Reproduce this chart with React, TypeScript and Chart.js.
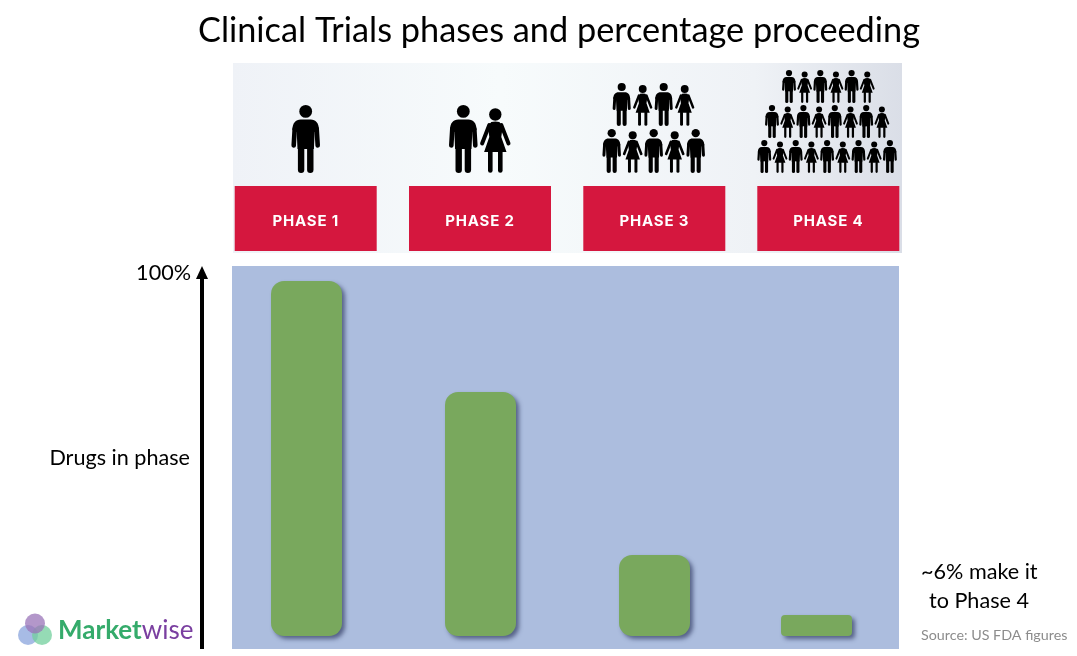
import React, { useEffect, useRef } from "react";
import { Chart, registerables } from "chart.js";

Chart.register(...registerables);

const phaseLabels = ["PHASE 1", "PHASE 2", "PHASE 3", "PHASE 4"];
const phasePositions = [1, 2, 3, 3.931];
const drugsInPhase = [100, 68.7, 22.8, 5.9];
const cornerRadii = [13, 13, 13, 4];
const chartTitle = "Clinical Trials phases and percentage proceeding";
const peakLabel = "100%";
const peakValue = 100;
const axisCaption = "Drugs in phase";
const noteLines = ["~6% make it", "to Phase 4"];
const sourceNote = "Source: US FDA figures";

const FONT = "Lato, Carlito, sans-serif";

// Decorative icon rows of the picture strip: [first x, step, count, feet y, height]
const crowdRows = [
  [305.7, 0, 1, 173, 68],
  [463.3, 32, 2, 173, 68],
  [621.7, 21, 4, 126, 43],
  [611.7, 21, 5, 173, 44],
  [789, 15.65, 6, 103, 33],
  [772, 15.7, 8, 138, 33],
  [764.3, 15.7, 9, 173, 33],
];
const redBoxes = [
  [234.7, 142],
  [409, 142],
  [583.3, 142],
  [757.3, 142],
];

function drawPerson(ctx: CanvasRenderingContext2D, cx: number, feet: number, h: number, woman: boolean) {
  const s = h / 68;
  ctx.save();
  ctx.translate(cx, feet - h);
  ctx.scale(s, s);
  ctx.fillStyle = "#000";
  ctx.strokeStyle = "#000";
  ctx.lineCap = "round";
  ctx.lineJoin = "round";
  const stroke = (lw: number, pts: number[][]) => {
    ctx.lineWidth = lw;
    ctx.beginPath();
    pts.forEach((p, i) => (i ? ctx.lineTo(p[0], p[1]) : ctx.moveTo(p[0], p[1])));
    ctx.stroke();
  };
  ctx.beginPath();
  if (woman) {
    ctx.arc(0, 9.5, 6.2, 0, Math.PI * 2);
    ctx.fill();
    stroke(4, [[-6, 20], [-13.2, 38.5]]);
    stroke(4, [[6, 20], [13.2, 38.5]]);
    ctx.beginPath();
    ctx.moveTo(-4, 17);
    ctx.quadraticCurveTo(0, 16, 4, 17);
    ctx.lineTo(7.5, 21);
    ctx.lineTo(6, 32);
    ctx.lineTo(11.2, 47);
    ctx.lineTo(-11.2, 47);
    ctx.lineTo(-6, 32);
    ctx.lineTo(-7.5, 21);
    ctx.closePath();
    ctx.fill();
    stroke(4.6, [[-5, 47], [-5, 65.5]]);
    stroke(4.6, [[5, 47], [5, 65.5]]);
  } else {
    ctx.arc(0, 6.4, 6.4, 0, Math.PI * 2);
    ctx.fill();
    stroke(4.6, [[-11, 24], [-12, 40.5]]);
    stroke(4.6, [[11, 24], [12, 40.5]]);
    ctx.beginPath();
    ctx.moveTo(-5, 14.5);
    ctx.lineTo(5, 14.5);
    ctx.bezierCurveTo(10, 14.5, 13.3, 18, 13.3, 25);
    ctx.lineTo(9, 27);
    ctx.lineTo(8.2, 44);
    ctx.lineTo(-8.2, 44);
    ctx.lineTo(-9, 27);
    ctx.lineTo(-13.3, 25);
    ctx.bezierCurveTo(-13.3, 18, -10, 14.5, -5, 14.5);
    ctx.closePath();
    ctx.fill();
    stroke(6.4, [[-4.6, 44], [-4.6, 64.8]]);
    stroke(6.4, [[4.6, 44], [4.6, 64.8]]);
  }
  ctx.restore();
}

const stripPlugin = {
  id: "strip",
  beforeDraw(chart: any) {
    const { ctx } = chart;
    ctx.save();
    const g = ctx.createLinearGradient(233, 0, 902, 0);
    g.addColorStop(0, "#eff2f7");
    g.addColorStop(0.4, "#f7fbfc");
    g.addColorStop(0.78, "#eff2f6");
    g.addColorStop(1, "#dadee7");
    ctx.fillStyle = g;
    ctx.fillRect(233, 63, 669, 190);
    redBoxes.forEach(([x, w], i) => {
      ctx.fillStyle = "#D5173E";
      ctx.fillRect(x, 186, w, 65);
      ctx.fillStyle = "#fff";
      ctx.font = `700 15px Inter, sans-serif`;
      (ctx as any).letterSpacing = "0.8px";
      ctx.textAlign = "center";
      ctx.textBaseline = "middle";
      ctx.fillText(phaseLabels[i], x + w / 2, 221);
    });
    (ctx as any).letterSpacing = "0px";
    crowdRows.forEach(([x0, step, n, feet, h]) => {
      for (let i = 0; i < n; i++) drawPerson(ctx, x0 + step * i, feet, h, i % 2 === 1);
    });
    ctx.restore();
  },
};

const plotBackground = {
  id: "plotBackground",
  beforeDatasetsDraw(chart: any) {
    const { ctx, chartArea: a } = chart;
    ctx.save();
    ctx.fillStyle = "#ACBDDE";
    ctx.fillRect(a.left, a.top, a.right - a.left, a.bottom - a.top);
    ctx.restore();
    ctx.save();
    ctx.shadowColor = "rgba(50,60,100,0.7)";
    ctx.shadowOffsetX = 3;
    ctx.shadowOffsetY = 3;
    ctx.shadowBlur = 4;
  },
  afterDatasetsDraw(chart: any) {
    chart.ctx.restore();
  },
};

const annotations = {
  id: "annotations",
  afterDraw(chart: any) {
    const { ctx, chartArea: a, scales } = chart;
    ctx.save();
    const ax = a.left - 30;
    ctx.fillStyle = "#000";
    ctx.fillRect(ax - 2, a.top + 12, 4, a.bottom - a.top - 12);
    ctx.beginPath();
    ctx.moveTo(ax, a.top);
    ctx.lineTo(ax + 6, a.top + 13);
    ctx.lineTo(ax - 6, a.top + 13);
    ctx.closePath();
    ctx.fill();
    ctx.textBaseline = "middle";
    ctx.font = `21.6px ${FONT}`;
    ctx.textAlign = "right";
    ctx.fillText(peakLabel, 191, scales.y.getPixelForValue(peakValue) - 8);
    ctx.fillText(axisCaption, 190, 458);
    ctx.textAlign = "left";
    ctx.fillText(noteLines[0], 921, 572.5);
    ctx.fillText(noteLines[1], 929, 601.5);
    ctx.fillStyle = "#8c8c8c";
    ctx.font = `14.3px ${FONT}`;
    ctx.fillText(sourceNote, 921, 635);
    ctx.globalAlpha = 0.75;
    ctx.fillStyle = "#8aa4dc";
    ctx.beginPath();
    ctx.arc(28, 635, 10, 0, Math.PI * 2);
    ctx.fill();
    ctx.fillStyle = "#72cf9c";
    ctx.beginPath();
    ctx.arc(42, 635, 10, 0, Math.PI * 2);
    ctx.fill();
    ctx.fillStyle = "#9a74b8";
    ctx.beginPath();
    ctx.arc(35, 623.5, 10, 0, Math.PI * 2);
    ctx.fill();
    ctx.globalAlpha = 1;
    ctx.textBaseline = "alphabetic";
    ctx.font = `700 26px ${FONT}`;
    ctx.fillStyle = "#35AB6B";
    ctx.fillText("Market", 58, 639);
    const w = ctx.measureText("Market").width;
    ctx.font = `400 26px ${FONT}`;
    ctx.fillStyle = "#7A3FA0";
    ctx.fillText("wise", 58 + w, 639);
    ctx.restore();
  },
};

export default function App() {
  const ref = useRef<HTMLCanvasElement>(null);
  useEffect(() => {
    if (!ref.current) return;
    const chart = new Chart(ref.current, {
      type: "bar",
      data: {
        datasets: [
          {
            label: "Drugs in phase",
            data: phasePositions.map((x, i) => ({ x, y: drugsInPhase[i] })),
            backgroundColor: "#79A85D",
            borderWidth: 0,
            borderRadius: cornerRadii,
            borderSkipped: false,
            inflateAmount: 0,
            barThickness: 71,
          } as any,
        ],
      },
      options: {
        responsive: false,
        animation: false,
        layout: { padding: { left: 198, right: 157, top: 0, bottom: 7 } },
        plugins: {
          legend: { display: false },
          tooltip: { enabled: false },
          title: {
            display: true,
            text: chartTitle,
            color: "#000",
            font: { family: FONT, size: 34.4, weight: "normal", lineHeight: 1.2 },
            padding: { top: 10, bottom: 214.72 },
          },
        },
        scales: {
          x: {
            type: "linear",
            display: false,
            offset: false,
            min: 0.5718,
            max: 4.405,
            grid: { display: false },
          },
          y: {
            min: -3.66,
            max: 104.2,
            grid: { display: false, drawTicks: false },
            border: { display: false },
            afterFit: (s: any) => {
              s.width = 34;
            },
            ticks: { display: false },
          },
          rightGutter: {
            type: "linear",
            position: "right",
            grid: { display: false, drawTicks: false },
            border: { display: false },
            afterFit: (s: any) => {
              s.width = 21;
            },
            ticks: { display: false },
          },
        },
      } as any,
      plugins: [stripPlugin, plotBackground, annotations],
    });
    return () => chart.destroy();
  }, []);
  return (
    <div style={{ position: "fixed", left: 0, top: 0, width: 1077, height: 656, background: "#fff" }}>
      <canvas ref={ref} width={1077} height={656} style={{ display: "block" }} />
    </div>
  );
}
